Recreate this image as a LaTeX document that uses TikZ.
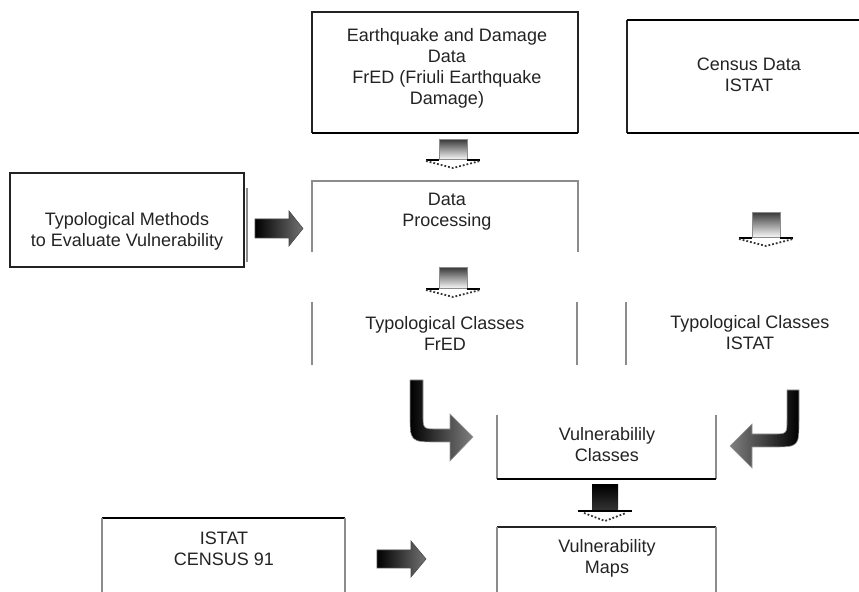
\documentclass[tikz,border=0pt]{standalone}
\usepackage{fontspec}
\setmainfont{Liberation Sans}
\definecolor{inkdark}{RGB}{35,35,35}
\definecolor{scangrey}{RGB}{140,140,140}

\begin{document}
\begin{tikzpicture}[x=0.5pt,y=-0.5pt,
  txt/.style={align=center,font=\fontsize{9}{10.5}\selectfont,text=inkdark,inner sep=0pt},
  thinline/.style={draw=inkdark,line width=0.6pt},
  heavyline/.style={draw=black,line width=1.2pt},
  greyline/.style={draw=scangrey,line width=0.6pt},
  hollowdown/.style={top color=black!75,bottom color=white,draw=scangrey,line width=0.5pt},
  wing/.style={draw=black,line width=0.9pt},
  dotv/.style={draw=black!80,densely dotted,line width=0.9pt},
  blackarrow/.style={left color=black,right color=black!55,draw=black!70,line width=0.3pt}]
\useasboundingbox (0,0) rectangle (859,592);
\clip (0,0) rectangle (859,592);

% frames
\draw[thinline] (312,133) -- (312,12) -- (578,12) -- (578,133);
\draw[heavyline] (312,133) -- (578,133);
\draw[thinline] (627,133) -- (627,20);
\draw[heavyline] (627,20) -- (871,20);
\draw[heavyline] (627,133) -- (871,133);
\draw[thinline] (10,173) rectangle (244,267);
\draw[greyline] (247,188) -- (247,262);
\draw[greyline] (312,252) -- (312,181) -- (578,181) -- (578,252);
\draw[greyline] (312,302) -- (312,365);
\draw[greyline] (577,302) -- (577,365);
\draw[greyline] (626,302) -- (626,365);
\draw[greyline] (497,415) -- (497,479);
\draw[greyline] (716,415) -- (716,479);
\draw[heavyline] (497,479) -- (716,479);
\draw[thinline] (497,527) -- (716,527);
\draw[greyline] (497,527) -- (497,592);
\draw[greyline] (716,527) -- (716,592);
\draw[heavyline] (102,518) -- (345,518);
\draw[greyline] (102,518) -- (102,592);
\draw[greyline] (345,518) -- (345,592);

% texts
\node[txt] (eq) at (447,68) {Earthquake and Damage\\Data\\FrED (Friuli Earthquake\\Damage)};
\node[txt] (census) at (749,75) {Census Data\\ISTAT};
\node[txt] (methods) at (127,231) {Typological Methods\\to Evaluate Vulnerability};
\node[txt] (dp) at (447,212) {Data\\Processing};
\node[txt] (tcfred) at (445,333) {Typological Classes\\FrED};
\node[txt] (tcistat) at (750,333) {Typological Classes\\ISTAT};
\node[txt] (vclass) at (607,445) {Vulnerabilily\\Classes};
\node[txt] (vmaps) at (607,558) {Vulnerability\\Maps};
\node[txt] (istat) at (224,549) {ISTAT\\CENSUS 91};

% grey down arrows
\shade[hollowdown] (439,140) rectangle (467,160);
\draw[wing] (426,160) -- (439,160) (467,160) -- (480,160);
\draw[dotv] (426,161) -- (453,168) -- (480,161);
\shade[hollowdown] (439,268) rectangle (467,289);
\draw[wing] (426,289) -- (439,289) (467,289) -- (480,289);
\draw[dotv] (426,290) -- (453,297) -- (480,290);
\shade[hollowdown] (752,213) rectangle (780,238);
\draw[wing] (739,238) -- (752,238) (780,238) -- (793,238);
\draw[dotv] (739,239) -- (766,246) -- (793,239);

% black down arrow
\shade[top color=black,bottom color=black!80] (592,485) rectangle (618,510);
\draw[black,line width=1.4pt] (578,511) -- (632,511);
\draw[dotv] (584,513) -- (605,521) -- (626,513);

% right arrows
\shade[blackarrow] (255,219) -- (289,219) -- (289,211) -- (303,228.5) -- (289,246) -- (289,238) -- (255,238) -- cycle;
\shade[blackarrow] (377,550) -- (411,550) -- (411,541) -- (426,559) -- (411,577) -- (411,568) -- (377,568) -- cycle;

% curved arrows
\shade[left color=black,right color=black!50,draw=black!40,line width=0.3pt]
  (410,380) -- (410,414) .. controls (410,442) .. (438,442) -- (450,442) -- (450,461)
  -- (473,437) -- (450,414) -- (450,429) -- (438,429) .. controls (423,429) .. (423,414)
  -- (423,380) -- cycle;
\shade[right color=black,left color=black!50,draw=black!40,line width=0.3pt]
  (799,390) -- (799,420) .. controls (799,447) .. (772,447) -- (752,447) -- (752,468)
  -- (730,446) -- (752,424) -- (752,434) -- (772,434) .. controls (787,434) .. (787,420)
  -- (787,390) -- cycle;
\end{tikzpicture}
\end{document}
